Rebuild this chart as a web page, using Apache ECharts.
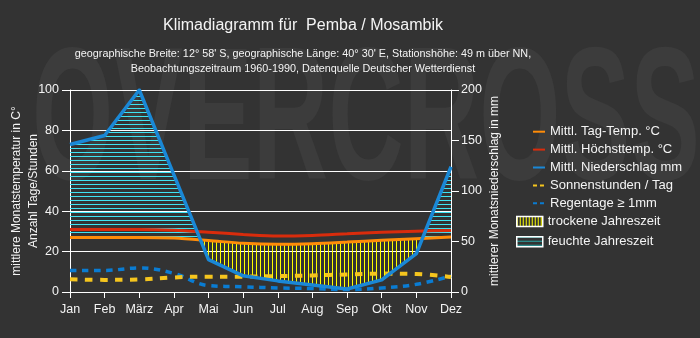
<!DOCTYPE html>
<html><head><meta charset="utf-8">
<script src="https://cdn.jsdelivr.net/npm/echarts@6/dist/echarts.min.js"></script>
<style>html,body{margin:0;padding:0;background:#333333;}#c{width:700px;height:338px;}</style>
</head><body><div id="c"></div>
<script>
// ---- data ----
const months = ['Jan','Feb','März','Apr','Mai','Jun','Jul','Aug','Sep','Okt','Nov','Dez'];
const tempMean = [27.0, 27.0, 27.0, 26.7, 25.5, 24.1, 23.6, 23.9, 24.7, 25.6, 26.4, 27.2];
const tempMax  = [31.0, 31.0, 31.0, 30.6, 29.6, 28.5, 27.7, 28.0, 28.8, 29.6, 30.1, 30.5];
const precip   = [146, 155, 200, 116, 32, 16, 11, 7, 3, 12, 38, 124];
const sunHours = [6.3, 6.0, 6.2, 7.2, 7.6, 7.6, 7.9, 8.2, 8.7, 9.1, 8.9, 7.4];
const rainDays = [10.7, 10.7, 11.9, 9.2, 3.2, 2.6, 2.0, 1.7, 1.2, 2.0, 3.8, 7.9];
const leftTicks = {min: 0, max: 100, interval: 20};
const rightTicks = {min: 0, max: 200, interval: 50};

const FONT = "'Liberation Sans', Arial, sans-serif";
const WHITE = '#f4f4f4';

function hatch(w, h, color, vertical) {
  const c = document.createElement('canvas');
  c.width = w; c.height = h;
  const g = c.getContext('2d');
  g.fillStyle = color;
  if (vertical) g.fillRect(0, 0, 1, h); else g.fillRect(0, 0, w, 1);
  return {image: c, repeat: 'repeat'};
}
const wetPattern = hatch(4, 4, '#3fe3f2', false);
const dryPattern = hatch(4, 4, '#ffff00', true);
const wetLegend = hatch(4, 4, '#2aa8a8', false);
const dryLegend = hatch(3, 4, '#ffff00', true);

// precipitation on the temperature scale (200 mm = 100)
const ratio = (rightTicks.max / leftTicks.max);
const aug = [];
for (let i = 0; i < months.length; i++) {
  const p = precip[i] / ratio, t = tempMean[i];
  aug.push({x: i, p: p, t: t});
  if (i < months.length - 1) {
    const d0 = p - t, d1 = precip[i + 1] / ratio - tempMean[i + 1];
    if (d0 * d1 < 0) {
      const f = d0 / (d0 - d1);
      const yc = t + f * (tempMean[i + 1] - t);
      aug.push({x: i + f, p: yc, t: yc});
    }
  }
}
function regions(sign) {
  const polys = []; let cur = [];
  for (const pt of aug) {
    const d = pt.p - pt.t;
    if (d * sign > 0 || Math.abs(d) < 1e-9) cur.push(pt);
    else { if (cur.length > 1) polys.push(cur); cur = []; }
  }
  if (cur.length > 1) polys.push(cur);
  return polys.map(run => run.map(q => [q.x, q.p]).concat(run.slice().reverse().map(q => [q.x, q.t])));
}
const wetPolys = regions(1), dryPolys = regions(-1);
function areaRender(polys, fill) {
  return function (params, api) {
    if (params.dataIndex > 0) return null;
    return {type: 'group', children: polys.map(poly => ({
      type: 'polygon',
      shape: {points: poly.map(pt => api.coord(pt))},
      style: {fill: fill, stroke: null}
    }))};
  };
}
const pairs = arr => arr.map((v, i) => [i, v]);

const chart = echarts.init(document.getElementById('c'), null, {renderer: 'canvas'});

// watermark width fit
const mc = document.createElement('canvas').getContext('2d');
const wmFont = "bold 190px 'Liberation Sans', Arial, sans-serif";
mc.font = wmFont;
const wmW = mc.measureText('OVERCROSS').width;

const solidIcon = 'path://M0,0h12v2h-12z';
const dashIcon = 'path://M0,0h4v2h-4zM7,0h4v2h-4zM12,0h0.01v2h-0.01z';

chart.setOption({
  backgroundColor: '#333333',
  animation: false,
  textStyle: {fontFamily: FONT},
  graphic: [{
    type: 'text', left: 32, top: 32, z: -100, silent: true,
    scaleX: 668 / wmW, scaleY: 1,
    style: {text: 'OVERCROSS', font: wmFont, fill: '#3c3c3c'}
  }],
  title: {
    text: 'Klimadiagramm für  Pemba / Mosambik',
    subtext: 'geographische Breite: 12° 58\' S, geographische Länge: 40° 30\' E, Stationshöhe: 49 m über NN,\nBeobachtungszeitraum 1960-1990, Datenquelle Deutscher Wetterdienst',
    left: 303, top: 16, textAlign: 'center', padding: 0, itemGap: 11,
    textStyle: {color: WHITE, fontSize: 16, fontWeight: 'normal', lineHeight: 20, fontFamily: FONT},
    subtextStyle: {color: WHITE, fontSize: 10.8, lineHeight: 15, fontFamily: FONT}
  },
  legend: [{
    orient: 'vertical', left: 533, top: 124.7, padding: 0, itemWidth: 12, itemHeight: 2, itemGap: 3.9,
    textStyle: {color: WHITE, fontSize: 13, lineHeight: 14},
    data: [
      {name: 'Mittl. Tag-Temp. °C', icon: solidIcon},
      {name: 'Mittl. Höchsttemp. °C', icon: solidIcon},
      {name: 'Mittl. Niederschlag mm', icon: solidIcon},
      {name: 'Sonnenstunden / Tag', icon: dashIcon},
      {name: 'Regentage ≥ 1mm', icon: dashIcon}
    ]
  }, {
    orient: 'vertical', left: 516, top: 214.5, padding: 0, itemWidth: 26, itemHeight: 10, itemGap: 6.2,
    textStyle: {color: WHITE, fontSize: 13, lineHeight: 14},
    data: [
      {name: 'trockene Jahreszeit', icon: 'rect', itemStyle: {color: dryLegend, borderColor: '#ffffff', borderWidth: 1.5}},
      {name: 'feuchte Jahreszeit', icon: 'rect', itemStyle: {color: wetLegend, borderColor: '#ffffff', borderWidth: 1.5}}
    ]
  }],
  grid: {left: 70, right: 249, top: 90, bottom: 46, containLabel: false, outerBoundsMode: 'none'},
  xAxis: {
    type: 'value', min: 0, max: months.length - 1, interval: 1,
    axisLine: {lineStyle: {color: '#ffffff', width: 1}},
    axisTick: {show: true, length: 6, lineStyle: {color: '#ffffff'}},
    axisLabel: {color: WHITE, fontSize: 12.5, margin: 11, formatter: v => months[v] || ''},
    splitLine: {show: false}
  },
  yAxis: [{
    type: 'value', min: leftTicks.min, max: leftTicks.max, interval: leftTicks.interval, position: 'left',
    name: 'mittlere Monatstemperatur in C°\nAnzahl Tage/Stunden',
    nameLocation: 'middle', nameGap: 28.5, nameRotate: 90, nameMoveOverlap: false,
    nameTextStyle: {color: WHITE, fontSize: 12, lineHeight: 16.6},
    axisLine: {show: true, lineStyle: {color: '#ffffff', width: 1}},
    axisTick: {show: true, length: 8, lineStyle: {color: '#ffffff'}},
    axisLabel: {color: WHITE, fontSize: 12.5, margin: 11},
    splitLine: {show: true, lineStyle: {color: '#ffffff', width: 1}}
  }, {
    type: 'value', min: rightTicks.min, max: rightTicks.max, interval: rightTicks.interval, position: 'right',
    name: 'mittlerer Monatsniederschlag in mm',
    nameLocation: 'middle', nameGap: 36, nameRotate: 90, nameMoveOverlap: false,
    nameTextStyle: {color: WHITE, fontSize: 12, lineHeight: 16},
    axisLine: {show: true, lineStyle: {color: '#ffffff', width: 1}},
    axisTick: {show: true, length: 8, lineStyle: {color: '#ffffff'}},
    axisLabel: {color: WHITE, fontSize: 12.5, margin: 10},
    splitLine: {show: false}
  }],
  series: [
    {name: 'feuchte Jahreszeit', type: 'custom', z: 1, data: [[0, 0]], encode: {x: 0, y: 1},
     itemStyle: {color: '#2aa8a8'}, renderItem: areaRender(wetPolys, wetPattern)},
    {name: 'trockene Jahreszeit', type: 'custom', z: 1, data: [[0, 0]], encode: {x: 0, y: 1},
     itemStyle: {color: '#ffff00'}, renderItem: areaRender(dryPolys, dryPattern)},
    {name: 'Regentage ≥ 1mm', type: 'line', yAxisIndex: 0, data: pairs(rainDays), symbol: 'none', smooth: 0.4, z: 3,
     itemStyle: {color: '#0a7cd2'}, lineStyle: {color: '#0a7cd2', width: 3.5, type: [6.5, 5.5], cap: 'butt'}},
    {name: 'Sonnenstunden / Tag', type: 'line', yAxisIndex: 0, data: pairs(sunHours), symbol: 'none', smooth: 0.4, z: 3,
     itemStyle: {color: '#f5c51e'}, lineStyle: {color: '#f5c51e', width: 4, type: [7.5, 7.5], cap: 'butt'}},
    {name: 'Mittl. Höchsttemp. °C', type: 'line', yAxisIndex: 0, data: pairs(tempMax), symbol: 'none', smooth: 0.3, z: 4,
     itemStyle: {color: '#d92c0c'}, lineStyle: {color: '#d92c0c', width: 3}},
    {name: 'Mittl. Tag-Temp. °C', type: 'line', yAxisIndex: 0, data: pairs(tempMean), symbol: 'none', smooth: 0.3, z: 4,
     itemStyle: {color: '#ff8c08'}, lineStyle: {color: '#ff8c08', width: 3}},
    {name: 'Mittl. Niederschlag mm', type: 'line', yAxisIndex: 1, data: pairs(precip), symbol: 'none', smooth: false, z: 5,
     itemStyle: {color: '#1a88d6'}, lineStyle: {color: '#1a88d6', width: 3.5, join: 'round'}}
  ]
});
</script></body></html>
